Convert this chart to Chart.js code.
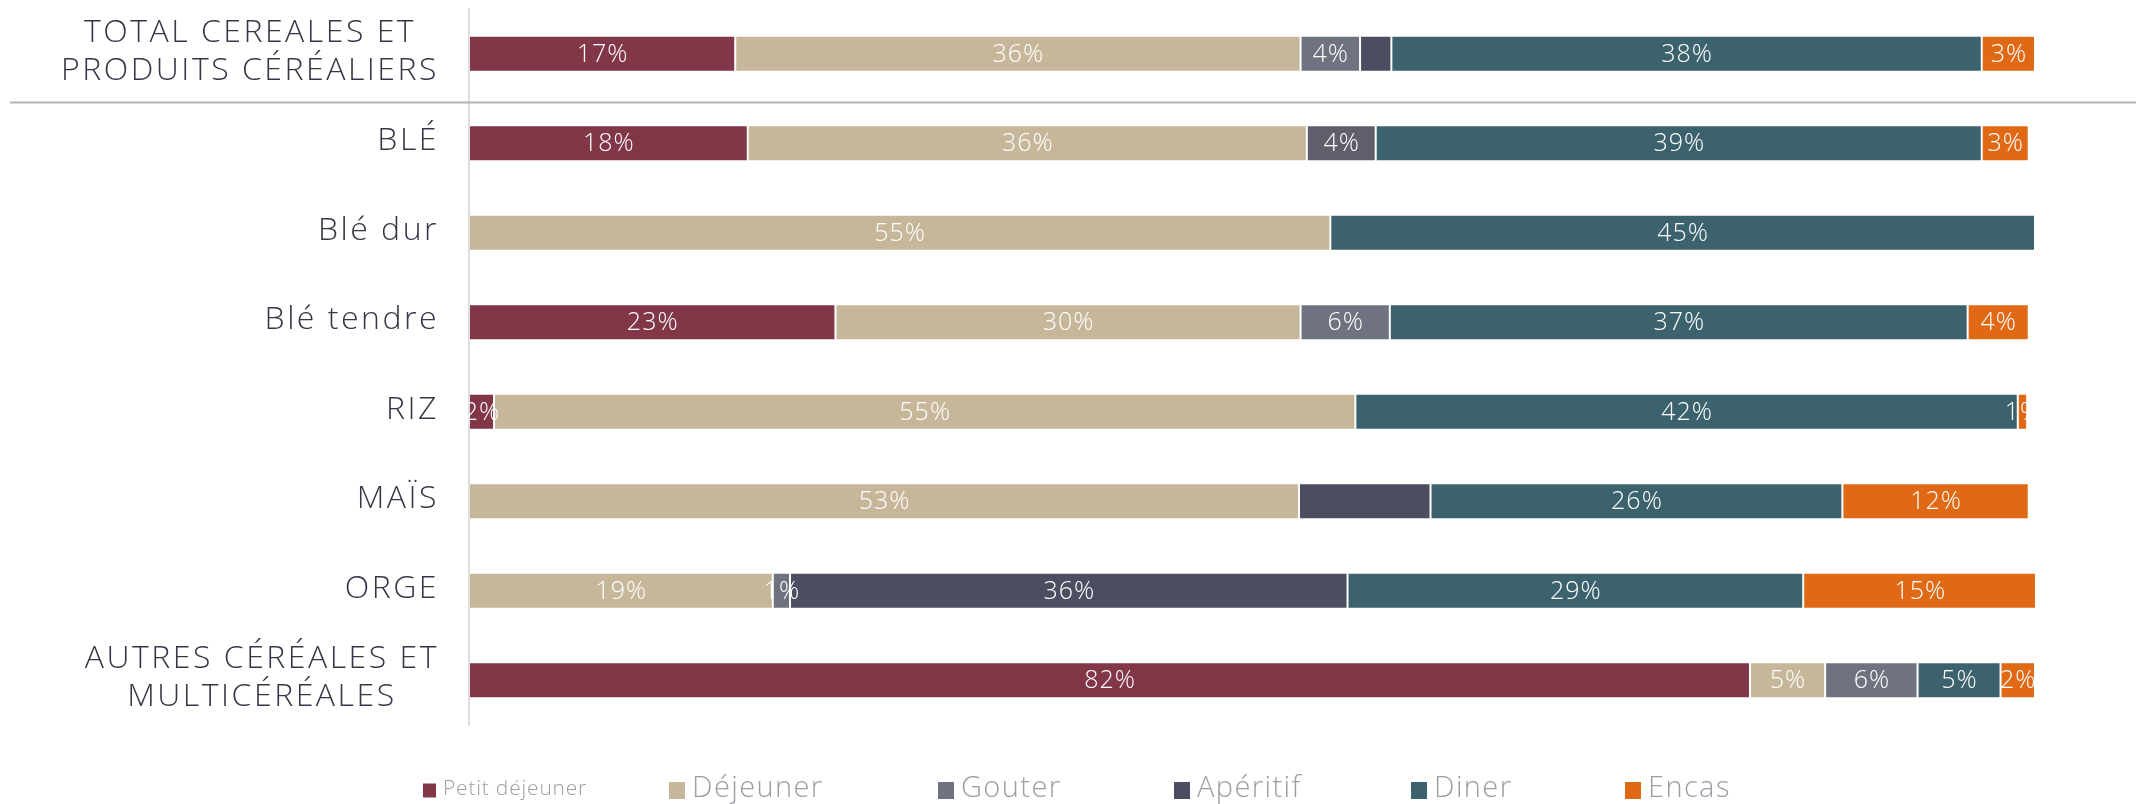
<!DOCTYPE html>
<html lang="fr">
<head>
<meta charset="utf-8">
<title>Céréales : répartition par moment de consommation</title>
<script src="https://cdn.jsdelivr.net/npm/chart.js@4.4.1/dist/chart.umd.min.js"></script>
<style>
  html, body { margin: 0; padding: 0; background: #fff; }
  #wrap { width: 2136px; height: 804px; }
</style>
</head>
<body>
<div id="wrap"><canvas id="mealChart" width="2136" height="804"></canvas></div>
<script>
// rows (top to bottom); multi-line labels are arrays of lines
const categories = [
  ['TOTAL CEREALES ET', 'PRODUITS CÉRÉALIERS'],
  ['BLÉ'],
  ['Blé dur'],
  ['Blé tendre'],
  ['RIZ'],
  ['MAÏS'],
  ['ORGE'],
  ['AUTRES CÉRÉALES ET', 'MULTICÉRÉALES']
];

const seriesNames = ['Petit déjeuner', 'Déjeuner', 'Gouter', 'Apéritif', 'Diner', 'Encas'];

// share of consumption, %
const petitDejeuner = [17.0, 17.8, null, 23.4, 1.6, null, null, 81.8];
const dejeuner      = [36.1, 35.7, 55.0, 29.7, 55.0, 53.0, 19.4, 4.8];
const gouter        = [3.8, 4.4, null, 5.7, null, null, 1.1, 5.9];
const aperitif      = [2.0, null, null, null, null, 8.4, 35.6, null];
const diner         = [37.7, 38.7, 45.0, 36.9, 42.3, 26.3, 29.1, 5.3];
const encas         = [3.4, 3.0, null, 3.9, 0.6, 11.9, 14.9, 2.2];

const seriesColors = ['#813747', '#c6b79a', '#6f7380', '#4c4d60', '#3c636d', '#e06916'];

// segments printed without a value label: [row, series]
const unlabeled = [[0, 3], [5, 3]];

const values = [petitDejeuner, dejeuner, gouter, aperitif, diner, encas];

const datasets = seriesNames.map(function(name, s) {
  let bg = seriesColors[s];
  if (s === 2) {
    // the BLÉ goûter segment is a darker grey
    bg = categories.map(function(c, i) { return i === 1 ? '#5f5f6b' : seriesColors[2]; });
  }
  return {
    label: name,
    data: values[s],
    backgroundColor: bg,
    borderColor: 'rgba(255,255,255,0.2)',
    borderWidth: 1,
    borderSkipped: false
  };
});

const FONT = '"Open Sans", "Noto Sans", sans-serif';

// white % labels centred in every segment
const valueLabels = {
  id: 'valueLabels',
  afterDatasetsDraw(chart) {
    const ctx = chart.ctx;
    ctx.save();
    ctx.fillStyle = '#ffffff';
    ctx.font = '300 25px ' + FONT;
    ctx.letterSpacing = '1px';
    ctx.textAlign = 'center';
    ctx.textBaseline = 'middle';
    chart.data.datasets.forEach(function(ds, s) {
      const meta = chart.getDatasetMeta(s);
      meta.data.forEach(function(bar, i) {
        const v = ds.data[i];
        if (v == null) return;
        if (unlabeled.some(function(p) { return p[0] === i && p[1] === s; })) return;
        const p = bar.getProps(['x', 'base', 'y'], true);
        ctx.fillText(Math.round(v) + '%', (p.x + p.base) / 2 + 0.5, p.y + 1);
      });
    });
    ctx.restore();
  }
};

// row names: block right-aligned to the axis, lines centred inside the block
const rowLabels = {
  id: 'rowLabels',
  afterDraw(chart) {
    const ctx = chart.ctx;
    const yScale = chart.scales.y;
    const right = yScale.right - 30;
    const lineH = 38;
    ctx.save();
    ctx.fillStyle = '#363645';
    ctx.font = '300 32px ' + FONT;
    ctx.letterSpacing = '2.5px';
    ctx.textBaseline = 'middle';
    ctx.textAlign = 'center';
    categories.forEach(function(lines, i) {
      const yc = yScale.getPixelForTick(i);
      const w = Math.max.apply(null, lines.map(function(l) { return ctx.measureText(l).width; }));
      const cx = right - w / 2;
      const y0 = yc - (lines.length - 1) * lineH / 2 - 2;
      lines.forEach(function(l, k) {
        ctx.fillText(l, cx, y0 + k * lineH);
      });
    });
    ctx.restore();
  }
};

// grey rule under the total row, across the whole width
const totalRule = {
  id: 'totalRule',
  afterDraw(chart) {
    const yScale = chart.scales.y;
    const y = (yScale.getPixelForTick(0) + yScale.getPixelForTick(1)) / 2 + 4;
    const ctx = chart.ctx;
    ctx.save();
    ctx.strokeStyle = '#b4b5ba';
    ctx.lineWidth = 2;
    ctx.beginPath();
    ctx.moveTo(10, y);
    ctx.lineTo(chart.width, y);
    ctx.stroke();
    ctx.restore();
  }
};

// legend along the bottom
const legendX = [423, 669, 938, 1174, 1411, 1625];
const bottomLegend = {
  id: 'bottomLegend',
  afterDraw(chart) {
    const ctx = chart.ctx;
    const yMid = 790;
    ctx.save();
    ctx.textBaseline = 'middle';
    ctx.textAlign = 'left';
    chart.data.datasets.forEach(function(ds, s) {
      const small = s === 0;
      const box = small ? 13 : 16;
      const x = legendX[s];
      ctx.fillStyle = seriesColors[s];
      ctx.fillRect(x, yMid - box / 2, box, small ? 14 : 17);
      ctx.fillStyle = '#9d9da5';
      ctx.font = '300 ' + (small ? 21 : 29) + 'px ' + FONT;
      ctx.letterSpacing = small ? '0.8px' : '1.4px';
      ctx.fillText(ds.label, x + box + 7, yMid - 1);
    });
    ctx.restore();
  }
};

const ctx = document.getElementById('mealChart').getContext('2d');
const mealChart = new Chart(ctx, {
  type: 'bar',
  data: {
    labels: categories,
    datasets: datasets
  },
  options: {
    indexAxis: 'y',
    responsive: false,
    animation: false,
    devicePixelRatio: 1,
    layout: {
      padding: { top: 9, right: 101, bottom: 79, left: 0 }
    },
    datasets: {
      bar: {
        categoryPercentage: 0.4,
        barPercentage: 1
      }
    },
    scales: {
      x: {
        stacked: true,
        min: 0,
        max: 100,
        display: false
      },
      y: {
        stacked: true,
        grid: { display: false },
        ticks: { display: false },
        border: { display: true, color: '#dcdcdc', width: 2 },
        afterFit: function(scale) { scale.width = 469; }
      }
    },
    plugins: {
      legend: { display: false },
      tooltip: { enabled: false }
    }
  },
  plugins: [valueLabels, rowLabels, totalRule, bottomLegend]
});
</script>
</body>
</html>
